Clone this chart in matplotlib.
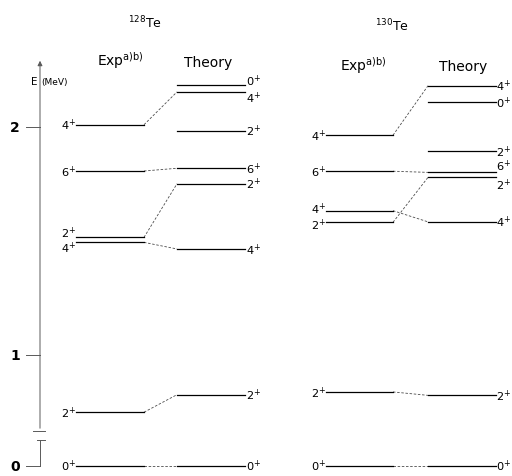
"""Level scheme: 128Te and 130Te, experiment vs theory."""
import matplotlib.pyplot as plt

# energies in MeV
te128_exp_E = [0.0, 0.749, 1.494, 1.516, 1.807, 2.010]
te128_exp_J = ["0", "2", "4", "2", "6", "4"]
te128_th_E = [0.0, 0.826, 1.465, 1.751, 1.819, 1.984, 2.154, 2.186]
te128_th_J = ["0", "2", "4", "2", "6", "2", "4", "0"]
# pairs (exp index, theory index) joined by dashed lines
te128_links = [(0, 0), (1, 1), (2, 2), (3, 3), (4, 4), (5, 6)]

te130_exp_E = [0.0, 0.838, 1.582, 1.633, 1.806, 1.964]
te130_exp_J = ["0", "2", "2", "4", "6", "4"]
te130_th_E = [0.0, 0.823, 1.584, 1.779, 1.801, 1.893, 2.110, 2.181]
te130_th_J = ["0", "2", "4", "2", "6", "2", "0", "4"]
te130_links = [(0, 0), (1, 1), (2, 3), (3, 2), (4, 4), (5, 7)]

axis_ticks = [0, 1, 2]

ZERO_SHIFT = 0.514  # broken axis: ground state drawn lower than scale


def ypos(E):
    return E + ZERO_SHIFT if E < 0.3 else E


fig = plt.figure(figsize=(5.12, 4.77), dpi=100)
ax = fig.add_axes([0, 0, 1, 1])
ax.set_xlim(0, 512)
ax.set_ylim(1 - 121 / 228, 1 + 356 / 228)
ax.axis("off")

lw = 0.9
fs = 8.2


def lab(J):
    return f"{J}$^{{+}}$"


def level_block(xe, xt, eE, eJ, tE, tJ, links, eoff, toff):
    for i, (E, J) in enumerate(zip(eE, eJ)):
        y = ypos(E)
        ax.plot(xe, [y, y], color="black", lw=lw)
        ax.text(xe[0] + 0.5, y + eoff.get(i, 0), lab(J), ha="right",
                va="center", fontsize=fs)
    for i, (E, J) in enumerate(zip(tE, tJ)):
        y = ypos(E)
        ax.plot(xt, [y, y], color="black", lw=lw)
        ax.text(xt[1] + 0.5, y + toff.get(i, 0), lab(J), ha="left",
                va="center", fontsize=fs)
    for a, b in links:
        ax.plot([xe[1], xt[0]], [ypos(eE[a]), ypos(tE[b])], color="black",
                lw=0.6, ls=(0, (3, 2)), alpha=0.7)


level_block([76, 144], [177, 245], te128_exp_E, te128_exp_J,
            te128_th_E, te128_th_J, te128_links,
            {2: -0.02, 3: 0.02}, {6: -0.025, 7: 0.02})
level_block([326, 393], [428, 496], te130_exp_E, te130_exp_J,
            te130_th_E, te130_th_J, te130_links,
            {2: -0.01, 3: 0.01}, {3: -0.03, 4: 0.03, 5: 0.0})

# energy axis with break
ax_x = 40
axc = "0.35"
ax.annotate("", xy=(ax_x, 1 + 297 / 228), xytext=(ax_x, 1 - 76 / 228),
            arrowprops=dict(arrowstyle="-|>", lw=0.7, color=axc,
                            mutation_scale=7))
ax.plot([ax_x, ax_x], [ypos(0), 1 - 85 / 228], color=axc, lw=0.7)
ax.plot([ax_x - 7, ax_x + 5], [1 - 76 / 228] * 2, color=axc, lw=0.7)
ax.plot([ax_x - 3, ax_x + 5], [1 - 85 / 228] * 2, color=axc, lw=0.7)
for t in axis_ticks:
    ax.plot([ax_x - 14, ax_x], [ypos(t), ypos(t)], color=axc, lw=0.7)
    ax.text(ax_x - 20, ypos(t), str(t), ha="right", va="center",
            fontsize=10, fontweight="bold")
ax.text(ax_x - 3, 2.20, "E", ha="right", va="center", fontsize=7.5)
ax.text(ax_x + 1, 2.20, "(MeV)", ha="left", va="center", fontsize=6.5)

# headers
ax.text(145, 1 + 333 / 228, "$^{128}$Te", ha="center", va="center", fontsize=9)
ax.text(392, 1 + 330 / 228, "$^{130}$Te", ha="center", va="center", fontsize=9)
ax.text(120, 1 + 295 / 228, "Exp$^{\\mathrm{a)b)}}$", ha="center",
        va="center", fontsize=10)
ax.text(208, 1 + 293 / 228, "Theory", ha="center", va="center", fontsize=10)
ax.text(363, 1 + 290 / 228, "Exp$^{\\mathrm{a)b)}}$", ha="center",
        va="center", fontsize=10)
ax.text(463, 1 + 289 / 228, "Theory", ha="center", va="center", fontsize=10)

fig.savefig("out.png", dpi=100)
